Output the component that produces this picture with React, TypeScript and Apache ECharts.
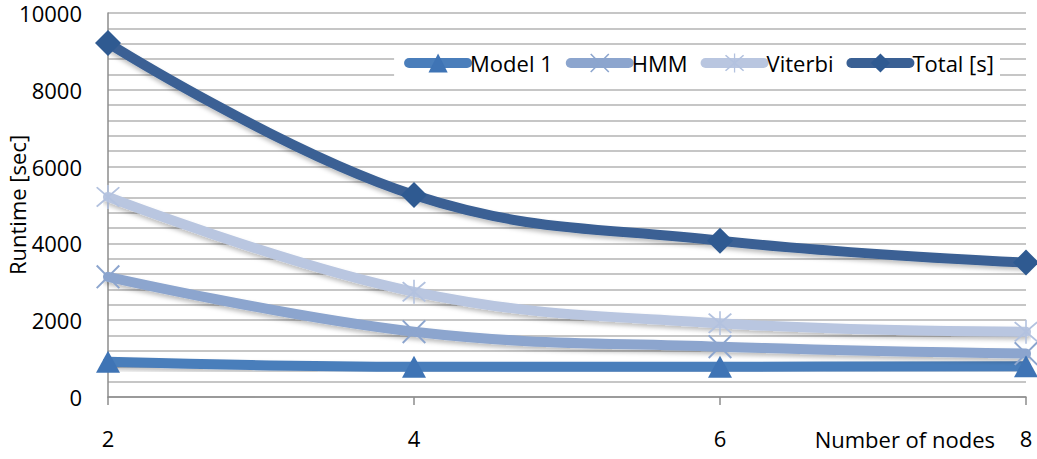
import React, { useEffect, useRef } from "react";
import * as echarts from "echarts";

const nodes = [2, 4, 6, 8];
const model1 = [920, 790, 790, 800];
const hmm = [3130, 1700, 1310, 1130];
const viterbi = [5210, 2740, 1920, 1700];
const total = [9220, 5260, 4070, 3500];

const FONT = "'Open Sans', sans-serif";
const FS = 22;

const crossPath =
  "path://M0,1.4 L1.4,0 L12,10.6 L22.6,0 L24,1.4 L13.4,12 L24,22.6 L22.6,24 L12,13.4 L1.4,24 L0,22.6 L10.6,12 Z";
const starPath =
  "path://M0,1.4 L1.4,0 L12,10.6 L22.6,0 L24,1.4 L13.4,12 L24,22.6 L22.6,24 L12,13.4 L1.4,24 L0,22.6 L10.6,12 Z M11.2,-2 L12.8,-2 L12.8,26 L11.2,26 Z";

const shadow = {
  shadowColor: "rgba(0,0,0,0.25)",
  shadowBlur: 4,
  shadowOffsetY: 3,
};

function mk(name: string, values: number[], color: string, symbol: string, size: number | number[], markerColor: string) {
  return {
    name,
    type: "line",
    smooth: 0.4,
    data: nodes.map((n, i) => [n, values[i]]),
    symbol,
    symbolSize: size,
    showAllSymbol: true,
    lineStyle: { color, width: 10, cap: "round", ...shadow },
    itemStyle: { color: markerColor, borderWidth: 0 },
    emphasis: { disabled: true },
  };
}

export default function App() {
  const ref = useRef<HTMLDivElement>(null);
  useEffect(() => {
    if (!ref.current) return;
    const chart = echarts.init(ref.current, undefined, { renderer: "svg" });
    chart.setOption({
      animation: false,
      textStyle: { fontFamily: FONT },
      grid: { left: 108, right: 11, top: 13, bottom: 62, containLabel: false, outerBoundsMode: "none" },
      legend: {
        top: 45,
        right: 37,
        backgroundColor: "#ffffff",
        padding: [7, 6, 7, 10],
        itemWidth: 58,
        itemHeight: 24,
        itemGap: 13,
        lineStyle: { width: 10, cap: "round", shadowBlur: 0, shadowOffsetY: 0 },
        textStyle: { fontFamily: FONT, fontSize: FS, color: "#000", padding: [0, 0, 0, -2] },
        data: ["Model 1", "HMM", "Viterbi", "Total [s]"],
      },
      xAxis: {
        type: "value",
        min: 2,
        max: 8,
        interval: 2,
        name: "Number of nodes",
        nameLocation: "end",
        nameGap: -31,
        nameMoveOverlap: false,
        nameTextStyle: {
          fontFamily: FONT,
          fontSize: FS,
          color: "#000",
          align: "right",
          verticalAlign: "top",
          padding: [31, 0, 0, 0],
        },
        axisLine: { show: true, lineStyle: { color: "#8c8c8c", width: 1.5 } },
        axisTick: { show: true, length: 8, inside: false, lineStyle: { color: "#8c8c8c", width: 1.5 } },
        axisLabel: { fontFamily: FONT, fontSize: FS, color: "#000", margin: 30 },
        splitLine: { show: false },
      },
      yAxis: {
        type: "value",
        min: 0,
        max: 10000,
        interval: 400,
        name: "Runtime [sec]",
        nameLocation: "middle",
        nameGap: 80,
        nameRotate: 90,
        nameMoveOverlap: false,
        nameTextStyle: { fontFamily: FONT, fontSize: FS, color: "#000", lineHeight: 22, padding: [0, 0, 0, 0] },
        axisLine: { show: true, lineStyle: { color: "#8c8c8c", width: 1.5 } },
        axisTick: { show: false },
        axisLabel: {
          fontFamily: FONT,
          fontSize: FS,
          lineHeight: 22,
          padding: [4, 0, 0, 0],
          color: "#000",
          margin: 26,
          formatter: (v: number) => (v % 2000 === 0 ? String(v) : ""),
        },
        splitLine: { show: true, lineStyle: { color: "#b3b3b3", width: 1.5 } },
      },
      series: [
        mk("Model 1", model1, "#4a7ebb", "triangle", [24, 22], "#3f74b5"),
        mk("HMM", hmm, "#8ca5ce", crossPath, 24, "#8ca5ce"),
        mk("Viterbi", viterbi, "#b9c6e0", starPath, 24, "#b3c2df"),
        mk("Total [s]", total, "#3a6094", "diamond", 26, "#2f5a91"),
      ],
    });
    return () => chart.dispose();
  }, []);
  return <div ref={ref} style={{ width: 1037, height: 459, position: "absolute", left: 0, top: 0 }} />;
}
